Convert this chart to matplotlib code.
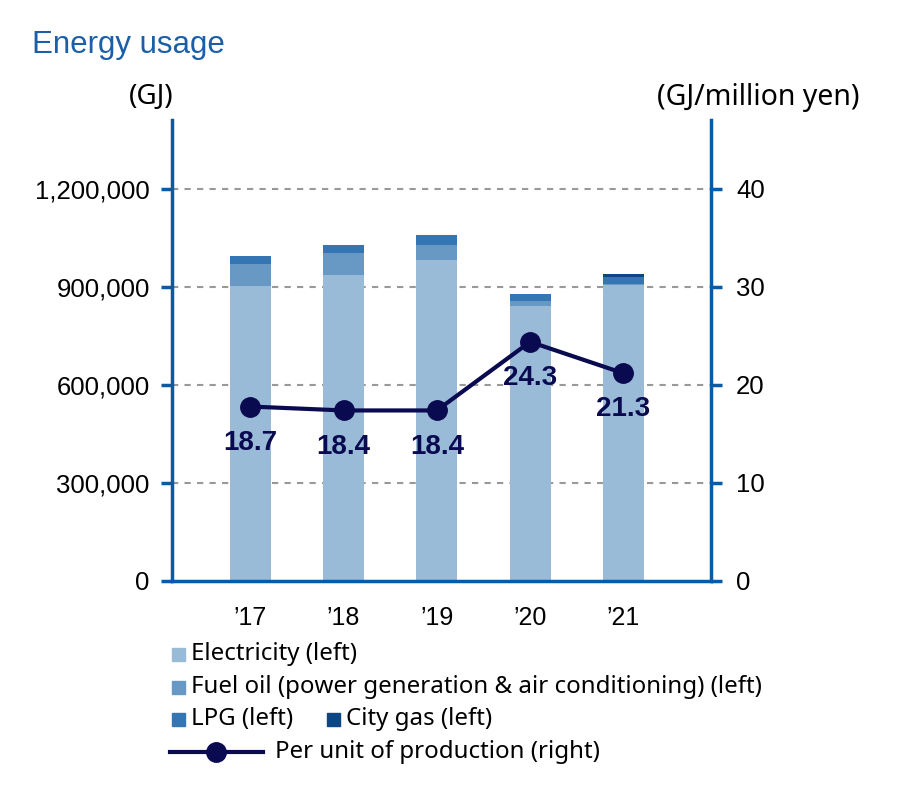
import matplotlib.pyplot as plt
from matplotlib.patches import Rectangle
from matplotlib.lines import Line2D
import numpy as np

# Daten
years = ["’17", "’18", "’19", "’20", "’21"]
electricity = [903000, 937000, 983000, 842000, 906000]
fuel_oil = [67000, 67000, 46000, 15000, 4000]
lpg = [25000, 24000, 31000, 21000, 20000]
city_gas = [0, 0, 0, 0, 10000]
per_unit = [17.8, 17.4, 17.4, 24.4, 21.2]
per_unit_labels = ["18.7", "18.4", "18.4", "24.3", "21.3"]

left_ticks = [0, 300000, 600000, 900000, 1200000]
right_ticks = [0, 10, 20, 30, 40]

# Farben
c_elec = '#9abbd8'
c_fuel = '#6899c5'
c_lpg = '#3475b3'
c_city = '#0c4684'
c_line = '#0a0a50'
c_axis = '#0a5aa5'

plt.rcParams['font.family'] = ['Liberation Sans', 'DejaVu Sans']
wide = ['Noto Sans', 'DejaVu Sans']

W, H = 901, 799
fig = plt.figure(figsize=(W / 100, H / 100), dpi=100)
ax = fig.add_axes([172 / W, 1 - 581 / H, (711 - 172) / W, (581 - 120) / H])

x = np.arange(len(years))
bw = 0.44
b1 = np.array(electricity)
b2 = b1 + np.array(fuel_oil)
b3 = b2 + np.array(lpg)
ax.bar(x, electricity, bw, color=c_elec, zorder=2)
ax.bar(x, fuel_oil, bw, bottom=b1, color=c_fuel, zorder=2)
ax.bar(x, lpg, bw, bottom=b2, color=c_lpg, zorder=2)
ax.bar(x, city_gas, bw, bottom=b3, color=c_city, zorder=2)

ymax = 1411000
ax.set_xlim(-0.84, 4.94)
ax.set_ylim(0, ymax)
ax.set_yticks(left_ticks)
ax.set_yticklabels([f"{v:,}" for v in left_ticks], fontsize=18.5)
ax.set_xticks(x)
ax.set_xticklabels(years, fontsize=18)
ax.tick_params(axis='x', length=0, pad=18)
ax.tick_params(axis='y', length=8, width=2.5, color=c_axis, pad=8)
for v in left_ticks[1:]:
    ax.axhline(v, color='#999999', lw=1.5, ls=(0, (3, 3)), zorder=1)

for s in ['left', 'right', 'bottom']:
    ax.spines[s].set_color(c_axis)
    ax.spines[s].set_linewidth(2.5)
ax.spines['top'].set_visible(False)

# rechte Achse
ax2 = ax.twinx()
ax2.set_ylim(0, ymax / 30000)
ax2.set_yticks(right_ticks)
ax2.set_yticklabels([str(v) for v in right_ticks], fontsize=18.5)
ax2.tick_params(axis='y', length=8, width=2.5, color=c_axis, pad=10)
for s in ['left', 'right', 'bottom', 'top']:
    ax2.spines[s].set_visible(False)

ax2.plot(x, per_unit, color=c_line, lw=3, marker='o', markersize=14, zorder=5)
for xi, yi, lab in zip(x, per_unit, per_unit_labels):
    ax2.annotate(lab, (xi, yi), xytext=(0, -26), textcoords='offset points',
                 ha='center', va='center', fontsize=20, fontweight='bold', color=c_line)

# Beschriftungen
fig.text(32 / W, 1 - 45 / H, 'Energy usage', color='#1a5fa8', fontsize=22.5, va='center', ha='left')
fig.text(151 / W, 1 - 97 / H, '(GJ)', fontsize=20, ha='center', va='center', family=wide)
fig.text(758 / W, 1 - 97 / H, '(GJ/million yen)', fontsize=20.5, ha='center', va='center', family=wide)

# Legende (manuell)
def fx(px):
    return px / W

def fy(py):
    return 1 - py / H

sq = 13
items = [
    (172, 654, c_elec, 'Electricity (left)'),
    (172, 687, c_fuel, 'Fuel oil (power generation & air conditioning) (left)'),
    (172, 719, c_lpg, 'LPG (left)'),
    (327, 719, c_city, 'City gas (left)'),
]
for px, py, col, lab in items:
    fig.patches.append(Rectangle((fx(px), fy(py + sq / 2)), sq / W, sq / H,
                                 transform=fig.transFigure, color=col))
    fig.text(fx(px + sq + 6), fy(py), lab, fontsize=17.3, va='center', ha='left', family=wide)

fig.lines.append(Line2D([fx(170), fx(263)], [fy(752), fy(752)], transform=fig.transFigure,
                        color=c_line, lw=3))
fig.lines.append(Line2D([fx(216)], [fy(752)], transform=fig.transFigure,
                        color=c_line, marker='o', markersize=14))
fig.text(fx(275), fy(752), 'Per unit of production (right)', fontsize=17.3, va='center', ha='left',
         family=wide)

plt.savefig('out.png', dpi=100)
